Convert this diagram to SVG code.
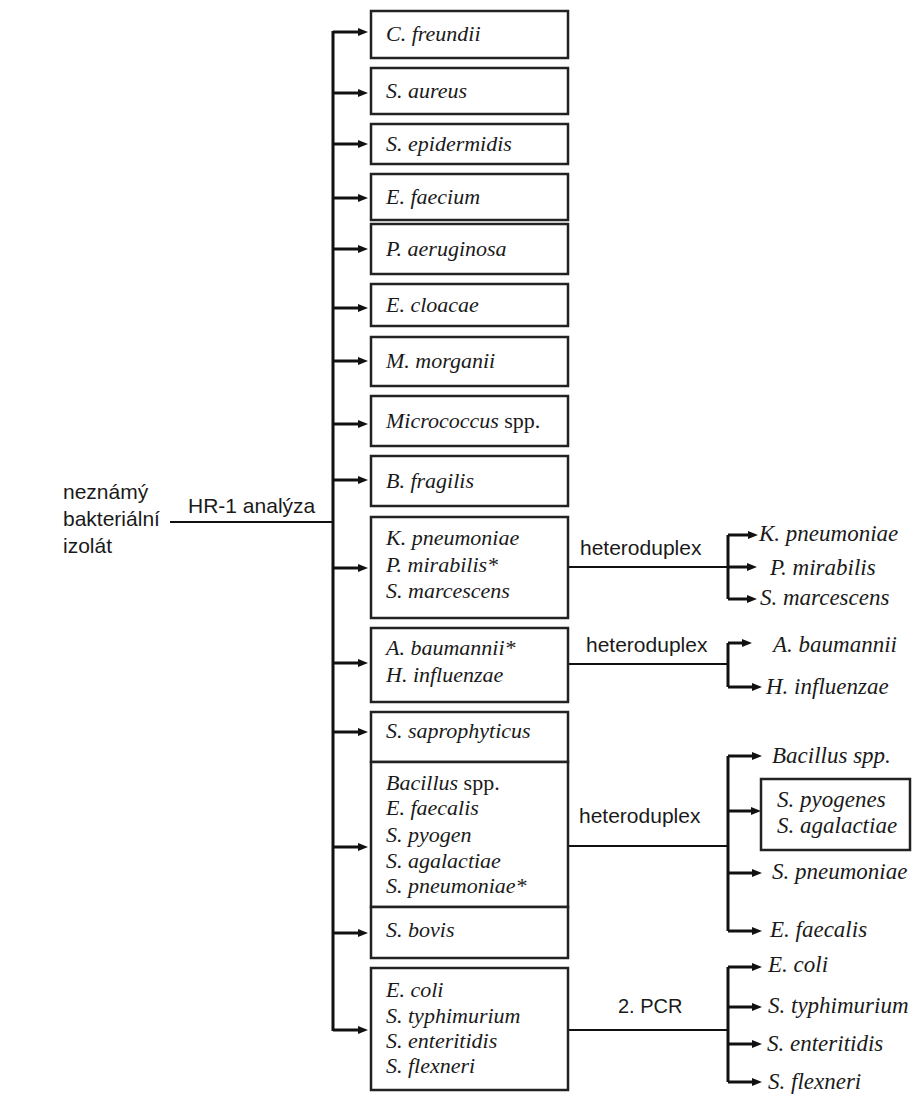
<svg xmlns="http://www.w3.org/2000/svg" width="913" height="1104" viewBox="0 0 913 1104">
<defs>
<style>
.box{fill:#fff;stroke:#222;stroke-width:2.5}
.ln{fill:none;stroke:#111;stroke-width:3}
.thin{fill:none;stroke:#111;stroke-width:2}
.ar{fill:none;stroke:#111;stroke-width:3;marker-end:url(#ah)}
.sp{font-family:"Liberation Serif","Times New Roman",serif;font-style:italic;font-size:22px;fill:#1a1a1a}
.spr{font-family:"Liberation Serif","Times New Roman",serif;font-style:italic;font-size:23px;fill:#1a1a1a}
.rm{font-style:normal}
.lbl{font-family:"Liberation Sans",Arial,sans-serif;font-size:21px;fill:#1a1a1a}
</style>
<marker id="ah" markerUnits="userSpaceOnUse" markerWidth="10" markerHeight="8" refX="2" refY="4" orient="auto">
<path d="M0,0 L10,4 L0,8 z" fill="#111"/>
</marker>
</defs>
<rect width="913" height="1104" fill="#fff"/>

<g id="source">
<text class="lbl" x="63" y="499">neznámý</text>
<text class="lbl" x="63" y="526">bakteriální</text>
<text class="lbl" x="63" y="553">izolát</text>
</g>

<g id="connectors">
<path class="thin" d="M170,522 H333"/>
<path class="ln" d="M333,1031 V31"/>
<line class="ar" x1="333" y1="32" x2="360" y2="32"/>
<line class="ar" x1="333" y1="93" x2="360" y2="93"/>
<line class="ar" x1="333" y1="144" x2="360" y2="144"/>
<line class="ar" x1="333" y1="198" x2="360" y2="198"/>
<line class="ar" x1="333" y1="249" x2="360" y2="249"/>
<line class="ar" x1="333" y1="308" x2="360" y2="308"/>
<line class="ar" x1="333" y1="361" x2="360" y2="361"/>
<line class="ar" x1="333" y1="424" x2="360" y2="424"/>
<line class="ar" x1="333" y1="480" x2="360" y2="480"/>
<line class="ar" x1="333" y1="568" x2="360" y2="568"/>
<line class="ar" x1="333" y1="663" x2="360" y2="663"/>
<line class="ar" x1="333" y1="732" x2="360" y2="732"/>
<line class="ar" x1="333" y1="847" x2="360" y2="847"/>
<line class="ar" x1="333" y1="933" x2="360" y2="933"/>
<line class="ar" x1="333" y1="1030" x2="360" y2="1030"/>

<path class="thin" d="M568,567 H728"/>
<path class="ln" d="M728,535 V599"/>
<line class="ar" x1="728" y1="535" x2="750" y2="535"/>
<line class="ar" x1="728" y1="567" x2="749" y2="567"/>
<line class="ar" x1="728" y1="599" x2="749" y2="599"/>

<path class="thin" d="M568,664 H728"/>
<path class="ln" d="M728,643 V687"/>
<line class="ar" x1="728" y1="643" x2="744" y2="643"/>
<line class="ar" x1="728" y1="687" x2="754" y2="687"/>

<path class="thin" d="M568,846 H728"/>
<path class="ln" d="M728,756 V931"/>
<line class="ar" x1="728" y1="756" x2="754" y2="756"/>
<line class="ar" x1="728" y1="811" x2="753" y2="811"/>
<line class="ar" x1="728" y1="873" x2="754" y2="873"/>
<line class="ar" x1="728" y1="931" x2="754" y2="931"/>

<path class="thin" d="M569,1030 H728"/>
<path class="ln" d="M728,967 V1082"/>
<line class="ar" x1="728" y1="967" x2="754" y2="967"/>
<line class="ar" x1="728" y1="1007" x2="754" y2="1007"/>
<line class="ar" x1="728" y1="1044" x2="754" y2="1044"/>
<line class="ar" x1="728" y1="1082" x2="754" y2="1082"/>
</g>

<g id="labels">
<text class="lbl" x="188" y="513">HR-1 analýza</text>
<text class="lbl" x="580" y="555">heteroduplex</text>
<text class="lbl" x="586" y="652">heteroduplex</text>
<text class="lbl" x="579" y="823">heteroduplex</text>
<text class="lbl" x="618" y="1013" style="font-size:20px">2. PCR</text>
</g>

<g id="n1"><rect class="box" x="371" y="11" width="197" height="47"/><text class="sp" x="386" y="41">C. freundii</text></g>
<g id="n2"><rect class="box" x="371" y="68" width="197" height="46"/><text class="sp" x="386" y="98">S. aureus</text></g>
<g id="n3"><rect class="box" x="371" y="124" width="197" height="40"/><text class="sp" x="386" y="151">S. epidermidis</text></g>
<g id="n4"><rect class="box" x="371" y="174" width="197" height="46"/><text class="sp" x="386" y="204">E. faecium</text></g>
<g id="n5"><rect class="box" x="371" y="224" width="197" height="50"/><text class="sp" x="386" y="256">P. aeruginosa</text></g>
<g id="n6"><rect class="box" x="371" y="284" width="197" height="42"/><text class="sp" x="386" y="312">E. cloacae</text></g>
<g id="n7"><rect class="box" x="371" y="337" width="197" height="49"/><text class="sp" x="386" y="368">M. morganii</text></g>
<g id="n8"><rect class="box" x="371" y="396" width="197" height="50"/><text class="sp" x="386" y="428">Micrococcus<tspan class="rm"> spp.</tspan></text></g>
<g id="n9"><rect class="box" x="371" y="456" width="197" height="50"/><text class="sp" x="386" y="488">B. fragilis</text></g>
<g id="n10"><rect class="box" x="371" y="517" width="197" height="101"/>
<text class="sp" x="386" y="545">K. pneumoniae</text>
<text class="sp" x="386" y="572">P. mirabilis*</text>
<text class="sp" x="386" y="598">S. marcescens</text></g>
<g id="n11"><rect class="box" x="371" y="628" width="197" height="74"/>
<text class="sp" x="386" y="655">A. baumannii*</text>
<text class="sp" x="386" y="682">H. influenzae</text></g>
<g id="n12"><rect class="box" x="371" y="712" width="197" height="50"/><text class="sp" x="386" y="738">S. saprophyticus</text></g>
<g id="n13"><rect class="box" x="371" y="762" width="197" height="145"/>
<text class="sp" x="386" y="790">Bacillus<tspan class="rm"> spp.</tspan></text>
<text class="sp" x="386" y="815">E. faecalis</text>
<text class="sp" x="386" y="842">S. pyogen</text>
<text class="sp" x="386" y="868">S. agalactiae</text>
<text class="sp" x="386" y="893">S. pneumoniae*</text></g>
<g id="n14"><rect class="box" x="371" y="907" width="197" height="51"/><text class="sp" x="386" y="937">S. bovis</text></g>
<g id="n15"><rect class="box" x="371" y="968" width="197" height="122"/>
<text class="sp" x="386" y="997">E. coli</text>
<text class="sp" x="386" y="1023">S. typhimurium</text>
<text class="sp" x="386" y="1048">S. enteritidis</text>
<text class="sp" x="386" y="1073">S. flexneri</text></g>

<g id="r1"><text class="spr" x="759" y="541">K. pneumoniae</text></g>
<g id="r2"><text class="spr" x="770" y="575">P. mirabilis</text></g>
<g id="r3"><text class="spr" x="760" y="605">S. marcescens</text></g>
<g id="r4"><text class="spr" x="773" y="652">A. baumannii</text></g>
<g id="r5"><text class="spr" x="766" y="694">H. influenzae</text></g>
<g id="r6"><text class="spr" x="772" y="763">Bacillus spp.</text></g>
<g id="r7"><rect class="box" x="761" y="779" width="149" height="71"/>
<text class="spr" x="777" y="807">S. pyogenes</text>
<text class="spr" x="777" y="833">S. agalactiae</text></g>
<g id="r8"><text class="spr" x="772" y="879">S. pneumoniae</text></g>
<g id="r9"><text class="spr" x="770" y="937">E. faecalis</text></g>
<g id="r10"><text class="spr" x="768" y="972">E. coli</text></g>
<g id="r11"><text class="spr" x="768" y="1013">S. typhimurium</text></g>
<g id="r12"><text class="spr" x="767" y="1051">S. enteritidis</text></g>
<g id="r13"><text class="spr" x="768" y="1089">S. flexneri</text></g>
</svg>
